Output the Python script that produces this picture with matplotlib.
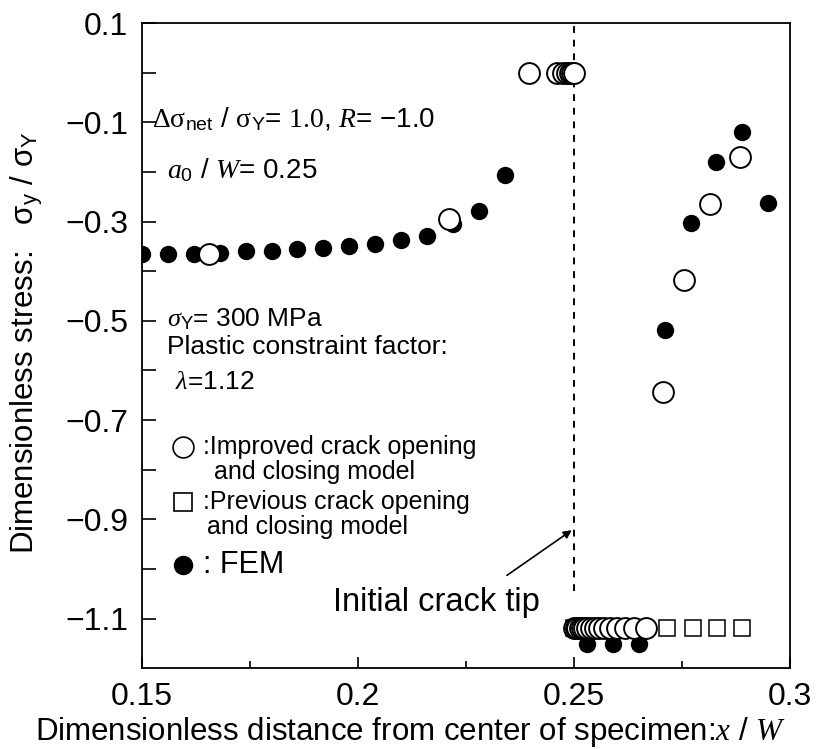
import matplotlib
matplotlib.use("Agg")
import matplotlib.pyplot as plt
from matplotlib.ticker import FixedLocator, FormatStrFormatter, FuncFormatter

plt.rcParams['font.family'] = ['Liberation Sans', 'DejaVu Sans']
plt.rcParams['mathtext.fontset'] = 'custom'
plt.rcParams['mathtext.rm'] = 'Liberation Serif'
plt.rcParams['mathtext.it'] = 'Liberation Serif:italic'
plt.rcParams['mathtext.sf'] = 'Liberation Sans'

# FEM stress distribution
fem_x = [0.150, 0.156, 0.162, 0.168, 0.174, 0.180, 0.186, 0.192, 0.198, 0.204,
         0.210, 0.216, 0.222, 0.228, 0.234,
         0.253, 0.259, 0.265,
         0.271, 0.277, 0.283, 0.289, 0.295]
fem_y = [-0.366, -0.366, -0.366, -0.364, -0.360, -0.360, -0.356, -0.354, -0.350, -0.346,
         -0.337, -0.328, -0.305, -0.278, -0.205,
         -1.152, -1.152, -1.152,
         -0.519, -0.303, -0.180, -0.120, -0.263]

# improved crack opening and closing model
imp_x = [0.1655, 0.2210, 0.2396, 0.2460, 0.2475, 0.2485, 0.2491, 0.2496, 0.2500,
         0.2500, 0.2504, 0.2508, 0.2513, 0.2518, 0.2524, 0.2531, 0.2539, 0.2548,
         0.2558, 0.2570, 0.2584, 0.2600, 0.2618, 0.2640, 0.2668,
         0.2706, 0.2755, 0.2815, 0.2884]
imp_y = [-0.366, -0.294, 0.000, 0.000, 0.000, 0.000, 0.000, 0.000, 0.000,
         -1.120, -1.120, -1.120, -1.120, -1.120, -1.120, -1.120, -1.120, -1.120,
         -1.120, -1.120, -1.120, -1.120, -1.120, -1.120, -1.120,
         -0.644, -0.418, -0.265, -0.170]

# previous crack opening and closing model
prev_x = [0.2500, 0.2510, 0.2520, 0.2535, 0.2550, 0.2570, 0.2595, 0.2625, 0.2660,
          0.2715, 0.2775, 0.2832, 0.2890]
prev_y = [-1.120] * len(prev_x)

a0_W = 0.25

fig = plt.figure(figsize=(8.35, 7.49), dpi=100)
ax = fig.add_axes([0.170, 0.108, 0.776, 0.861])

ax.axvline(a0_W, ymin=0.12, ymax=1.0, color='black', lw=1.4, dashes=(3.5, 3.5), zorder=1)

ax.plot(prev_x, prev_y, 's', ms=11.5, mfc='white', mec='black', mew=1.1, zorder=2)
ax.plot(fem_x, fem_y, 'o', ms=12.5, mfc='black', mec='black', mew=0, zorder=3)
ax.plot(imp_x, imp_y, 'o', ms=15, mfc='white', mec='black', mew=1.4, zorder=4)

ax.set_xlim(0.15, 0.30)
ax.set_ylim(-1.2, 0.1)
ax.xaxis.set_major_locator(FixedLocator([0.15, 0.2, 0.25, 0.3]))
ax.xaxis.set_minor_locator(FixedLocator([0.175, 0.225, 0.275]))
ax.xaxis.set_major_formatter(FormatStrFormatter('%g'))
ax.yaxis.set_major_locator(FixedLocator([0.1, -0.1, -0.3, -0.5, -0.7, -0.9, -1.1]))
ax.yaxis.set_minor_locator(FixedLocator([0.0, -0.2, -0.4, -0.6, -0.8, -1.0]))
ax.yaxis.set_major_formatter(FuncFormatter(lambda v, pos: f'{v:.1f}'.replace('-', '\u2212')))
ax.tick_params(axis='both', which='both', direction='in', labelsize=23, width=1.2)
ax.tick_params(axis='x', which='major', length=8, pad=10)
ax.tick_params(axis='x', which='minor', length=5)
ax.tick_params(axis='y', which='both', length=10, pad=10)
for sp in ax.spines.values():
    sp.set_linewidth(1.3)

ax.set_xlabel('Dimensionless distance from center of specimen:$x$ / $W$', fontsize=22.5)
ax.xaxis.set_label_coords(0.415, -0.073)
ax.set_ylabel(r'Dimensionless stress:   $\mathsf{\sigma}_{\mathsf{y}}$ / $\mathsf{\sigma}_{\mathsf{Y}}$',
              fontsize=22.5)
ax.yaxis.set_label_coords(-0.150, 0.505)

# loading conditions
ax.text(0.015, 0.851, r'$\Delta\mathrm{\sigma}_{\mathsf{net}}$ / $\mathrm{\sigma}_{\mathsf{Y}}$= $\mathrm{1.0}$, $R$= −1.0',
        transform=ax.transAxes, fontsize=20, va='center')
ax.text(0.039, 0.772, r'$a_{\mathsf{0}}$ / $W$= 0.25', transform=ax.transAxes, fontsize=20, va='center')
ax.text(0.039, 0.541, r'$\sigma_{\mathsf{Y}}$= 300 MPa', transform=ax.transAxes, fontsize=19, va='center')
ax.text(0.039, 0.498, 'Plastic constraint factor:', transform=ax.transAxes, fontsize=19, va='center')
ax.text(0.051, 0.443, r'$\lambda$=1.12', transform=ax.transAxes, fontsize=19, va='center')

# legend keys
ax.plot(0.063, 0.343, 'o', ms=15, mfc='white', mec='black', mew=1.2, transform=ax.transAxes, clip_on=False)
ax.text(0.094, 0.343, ':Improved crack opening', transform=ax.transAxes, fontsize=18, va='center')
ax.text(0.111, 0.304, 'and closing model', transform=ax.transAxes, fontsize=18, va='center')
ax.plot(0.063, 0.257, 's', ms=13, mfc='white', mec='black', mew=1.2, transform=ax.transAxes, clip_on=False)
ax.text(0.094, 0.257, ':Previous crack opening', transform=ax.transAxes, fontsize=18, va='center')
ax.text(0.100, 0.219, 'and closing model', transform=ax.transAxes, fontsize=18, va='center')
ax.plot(0.063, 0.160, 'o', ms=13, mfc='black', mec='black', transform=ax.transAxes, clip_on=False)
ax.text(0.094, 0.160, ': FEM', transform=ax.transAxes, fontsize=22, va='center')

ax.text(0.295, 0.102, 'Initial crack tip', transform=ax.transAxes, fontsize=23.5, va='center')
ax.annotate('', xy=(0.2495, -0.922), xytext=(0.2345, -1.013),
            arrowprops=dict(arrowstyle='-|>', color='black', lw=1.2, mutation_scale=12,
                            shrinkA=0, shrinkB=0))

fig.savefig('out.png', dpi=100)
